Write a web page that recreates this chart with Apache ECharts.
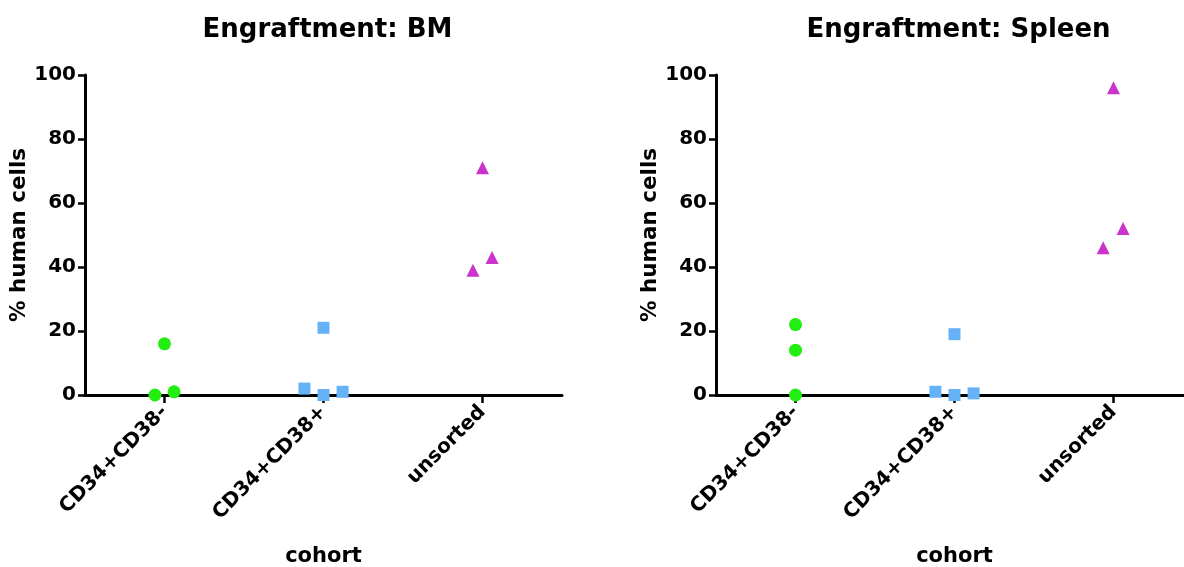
<!DOCTYPE html>
<html>
<head>
<meta charset="utf-8">
<script src="https://cdn.jsdelivr.net/npm/echarts@6/dist/echarts.min.js"></script>
<style>
html,body{margin:0;padding:0;background:#fff;}
#chart{width:1184px;height:567px;}
</style>
</head>
<body>
<div id="chart"></div>
<script>
// ---- data ----
const categories = ['CD34+CD38-', 'CD34+CD38+', 'unsorted'];
const panelTitles = ['Engraftment: BM', 'Engraftment: Spleen'];
const yTicks = [0, 20, 40, 60, 80, 100];
const yName = '% human cells';
const xName = 'cohort';

// Bone marrow (category index + small horizontal jitter, value)
const bmNegJitter = [-0.06, 0.0, 0.06];
const bmNegValues = [0, 16, 1];
const bmPosJitter = [-0.12, 0.0, 0.0, 0.12];
const bmPosValues = [2, 21, 0, 1];
const bmUnsJitter = [-0.06, 0.0, 0.06];
const bmUnsValues = [39, 71, 43];

// Spleen
const spNegJitter = [0.0, 0.0, 0.0];
const spNegValues = [22, 14, 0];
const spPosJitter = [-0.12, 0.0, 0.0, 0.12];
const spPosValues = [1, 19, 0, 0.5];
const spUnsJitter = [-0.065, 0.0, 0.06];
const spUnsValues = [46, 96, 52];

// ---- build ----
const FONT = 'DejaVu Sans';
const colors = {neg: '#22ee11', pos: '#66b2f7', uns: '#cc33cc'};
function pts(catIdx, jit, vals) {
  return vals.map((v, i) => [catIdx + jit[i], v]);
}
const grids = [
  {left: 85, top: 75, width: 477, height: 320, outerBoundsMode: 'none', containLabel: false},
  {left: 716, top: 75, width: 477, height: 320, outerBoundsMode: 'none', containLabel: false}
];
const titles = panelTitles.map((t, i) => ({
  text: t,
  left: grids[i].left + grids[i].width / 2 - 1,
  top: 12,
  textAlign: 'center',
  textStyle: {fontFamily: FONT, fontWeight: 'bold', fontSize: 26, color: '#000'}
}));
const xAxes = [];
const yAxes = [];
[0, 1].forEach(g => {
  xAxes.push({
    type: 'category', gridIndex: g, data: categories, boundaryGap: true,
    name: xName, nameLocation: 'middle', nameGap: 151,
    nameTextStyle: {fontFamily: FONT, fontWeight: 'bold', fontSize: 21, color: '#000'},
    axisLine: {show: true, onZero: false, lineStyle: {color: '#000', width: 3}},
    axisTick: {show: true, alignWithLabel: true, length: 8, lineStyle: {color: '#000', width: 2.5}},
    axisLabel: {rotate: 45, margin: 14, fontFamily: FONT, fontWeight: 'bold', fontSize: 20, color: '#000', interval: 0},
    splitLine: {show: false}
  });
  xAxes.push({
    type: 'value', gridIndex: g, min: -0.5, max: 2.5, show: false
  });
  yAxes.push({
    type: 'value', gridIndex: g, min: yTicks[0], max: yTicks[yTicks.length - 1], interval: 20,
    name: yName, nameLocation: 'middle', nameGap: 49, nameRotate: 90,
    nameTextStyle: {fontFamily: FONT, fontWeight: 'bold', fontSize: 21.5, color: '#000'},
    axisLine: {show: true, onZero: false, lineStyle: {color: '#000', width: 3}},
    axisTick: {show: true, length: 7, lineStyle: {color: '#000', width: 2.5}},
    axisLabel: {margin: 9, fontFamily: FONT, fontWeight: 'bold', fontSize: 20, color: '#000'},
    splitLine: {show: false}
  });
});
function scatter(g, data, symbol, color, size) {
  return {
    type: 'scatter', xAxisIndex: g * 2 + 1, yAxisIndex: g, data: data,
    symbol: symbol, symbolSize: size, clip: false,
    itemStyle: {color: color, opacity: 1}, z: 5
  };
}
const series = [
  scatter(0, pts(0, bmNegJitter, bmNegValues), 'circle', colors.neg, 13),
  scatter(0, pts(1, bmPosJitter, bmPosValues), 'rect', colors.pos, 12),
  scatter(0, pts(2, bmUnsJitter, bmUnsValues), 'triangle', colors.uns, 13),
  scatter(1, pts(0, spNegJitter, spNegValues), 'circle', colors.neg, 13),
  scatter(1, pts(1, spPosJitter, spPosValues), 'rect', colors.pos, 12),
  scatter(1, pts(2, spUnsJitter, spUnsValues), 'triangle', colors.uns, 13)
];
const chart = echarts.init(document.getElementById('chart'), null, {renderer: 'canvas'});
chart.setOption({
  animation: false,
  backgroundColor: '#fff',
  title: titles,
  grid: grids,
  xAxis: xAxes,
  yAxis: yAxes,
  series: series
});
</script>
</body>
</html>
